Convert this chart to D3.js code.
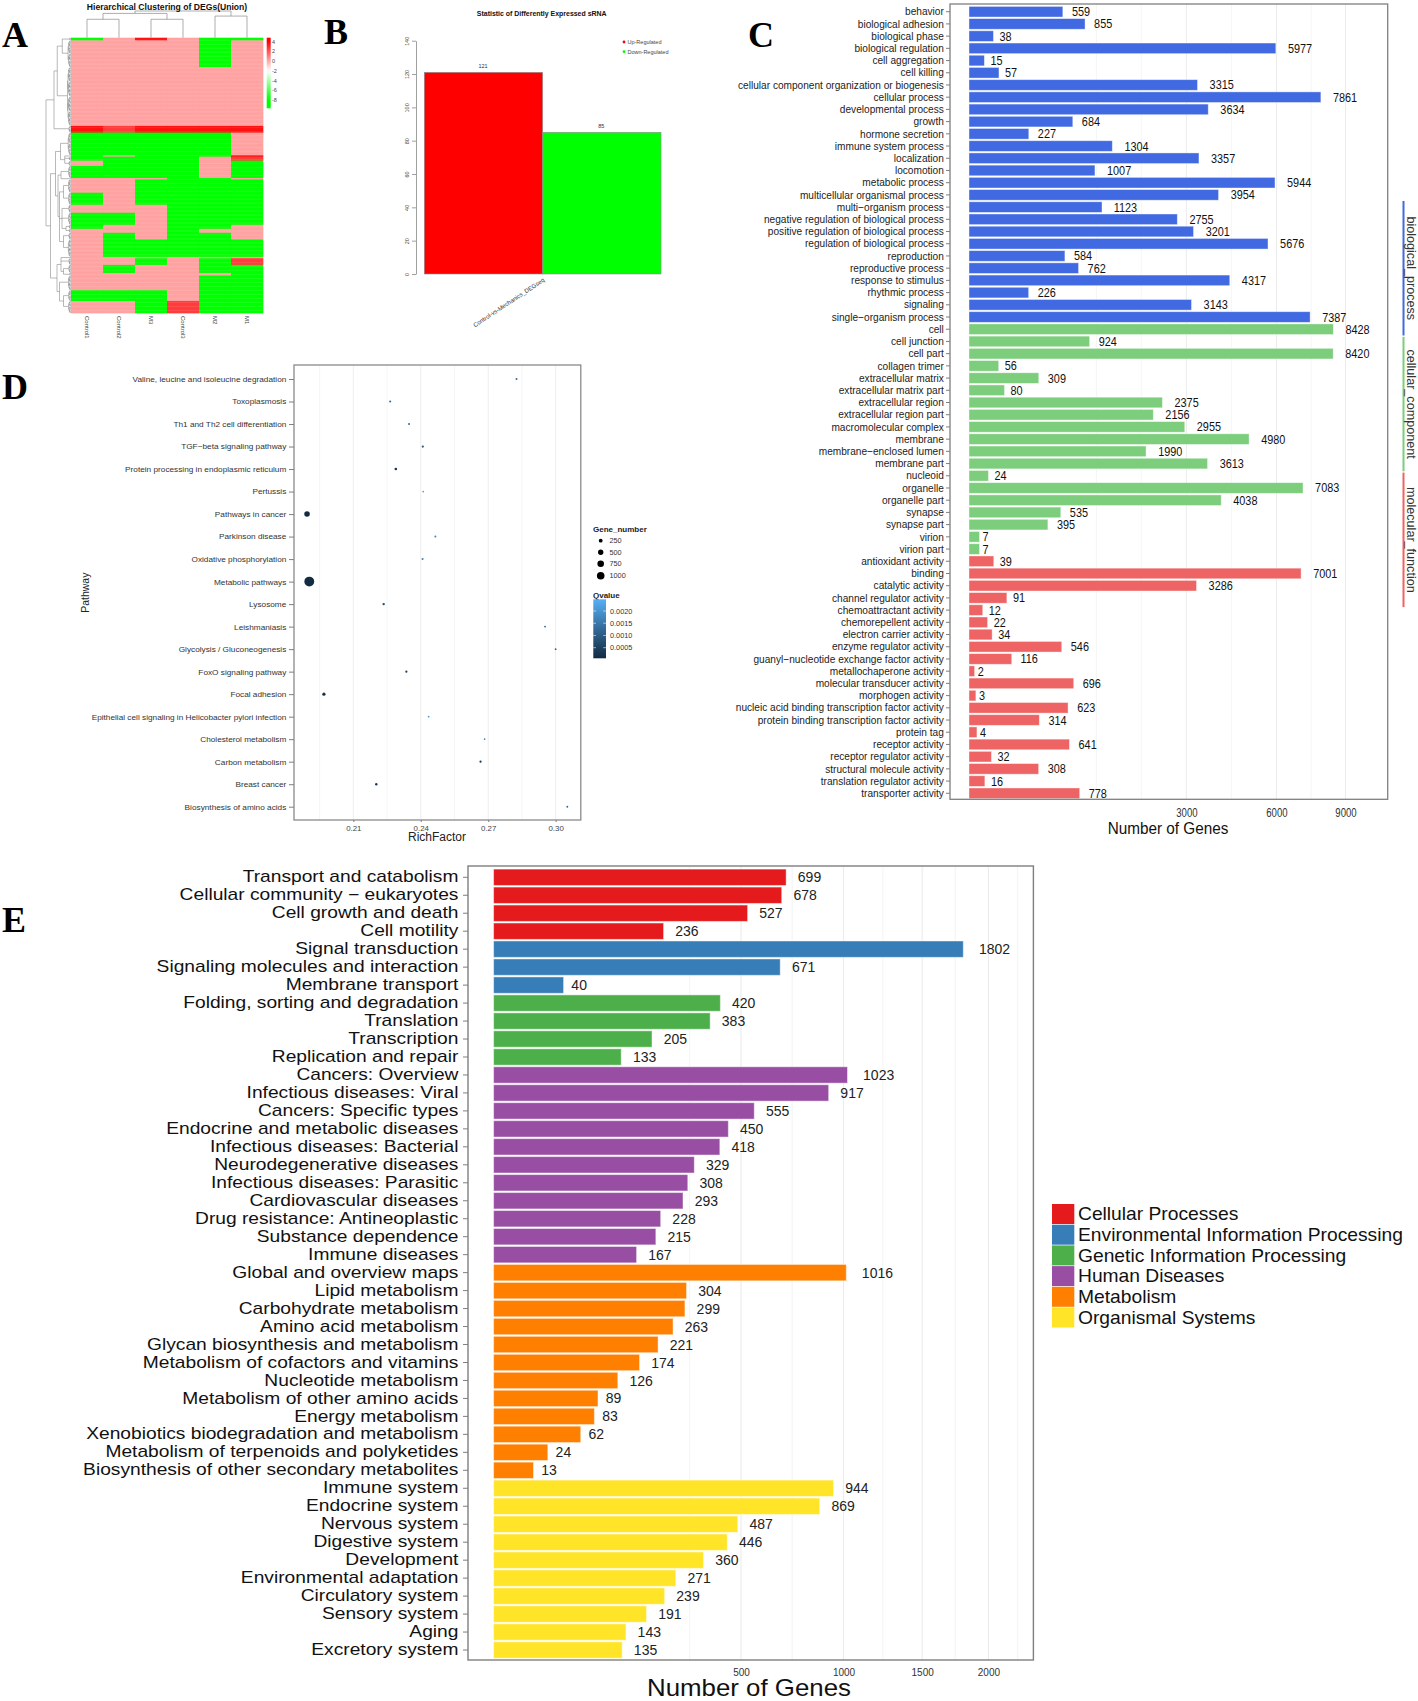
<!DOCTYPE html>
<html><head><meta charset="utf-8">
<script src="https://cdn.jsdelivr.net/npm/d3@7/dist/d3.min.js"></script>
<style>html,body{margin:0;padding:0;background:#fff;} svg{display:block;}</style>
</head><body>
<svg id="fig" width="1418" height="1701" xmlns="http://www.w3.org/2000/svg"></svg>
<script>
// ======================= DATA =======================
// ---- Panel A: hierarchical clustering heatmap ----
const heatSamples = ["Control1","Control2","M3","Control3","M2","M1"];
const heatLevelValues = {p: 0.2, R: 2.6, r: 3.6, g: -8};
// [number of rows, level per sample]
const heatBlocks = [
  [2,"gprpgg"],[20,"ppppgp"],[44,"pppppp"],[5,"rRrrrr"],[17,"gggggp"],
  [1,"gpgggr"],[3,"ggggpR"],[4,"pgggpg"],[9,"ggggpg"],[1,"pppggp"],
  [10,"ppgggg"],[9,"gpgggg"],[6,"pppggg"],[9,"ggpggg"],[3,"gppggp"],
  [3,"pppgpp"],[5,"pgpggp"],[13,"pggggg"],[1,"pppppp"],[5,"ppgpgR"],
  [6,"pgppgg"],[2,"pppppg"],[11,"ppppgg"],[8,"gggpgg"],[9,"ppgRgg"]
];
// row dendrogram over blocks: [height, children...]
const rowTree = [1.0,
  [0.68, [0.55, [0.35, 0, 1], 2], 3],
  [0.82,
    [0.62, [0.42, 4, [0.25, 5, 6, 7]],
           [0.52, [0.4, 8, 9], [0.46, [0.3, 10, 11], [0.36, 12, 13, [0.2, 14, 15]], [0.3, 16, 17]]]],
    [0.56, [0.4, 18, 19, [0.3, 20, 21]], [0.46, 22, [0.3, 23, 24]]]
  ]
];
const colTree = [1.0, [0.91, [0.69, 0, 1], [0.69, 2, 3]], [0.81, 4, 5]];
const heatLegendTicks = [4, 2, 0, -2, -4, -6, -8];

// ---- Panel B: statistic of differently expressed sRNA ----
const bSeries = ["Up-Regulated", "Down-Regulated"];
const bValues = [121, 85];
const bColors = ["#ff0000", "#00ff00"];
const bTicks = [0, 20, 40, 60, 80, 100, 120, 140];
const bGroup = "Control-vs-Mechanics_DEGseq";

// ---- Panel C: GO classification ----
const cOntologies = ["biological_process", "cellular_component", "molecular_function"];
const cOntColors = ["#4169E1", "#7CCD7C", "#EE6363"];
const cBP = ["behavior","biological adhesion","biological phase","biological regulation","cell aggregation","cell killing",
  "cellular component organization or biogenesis","cellular process","developmental process","growth","hormone secretion",
  "immune system process","localization","locomotion","metabolic process","multicellular organismal process",
  "multi\u2212organism process","negative regulation of biological process","positive regulation of biological process",
  "regulation of biological process","reproduction","reproductive process","response to stimulus","rhythmic process",
  "signaling","single\u2212organism process"];
const cBPValues = [559,855,38,5977,15,57,3315,7861,3634,684,227,1304,3357,1007,5944,3954,1123,2755,3201,5676,584,762,4317,226,3143,7387];
const cCC = ["cell","cell junction","cell part","collagen trimer","extracellular matrix","extracellular matrix part",
  "extracellular region","extracellular region part","macromolecular complex","membrane","membrane\u2212enclosed lumen",
  "membrane part","nucleoid","organelle","organelle part","synapse","synapse part","virion","virion part"];
const cCCValues = [8428,924,8420,56,309,80,2375,2156,2955,4980,1990,3613,24,7083,4038,535,395,7,7];
const cMF = ["antioxidant activity","binding","catalytic activity","channel regulator activity","chemoattractant activity",
  "chemorepellent activity","electron carrier activity","enzyme regulator activity","guanyl\u2212nucleotide exchange factor activity",
  "metallochaperone activity","molecular transducer activity","morphogen activity","nucleic acid binding transcription factor activity",
  "protein binding transcription factor activity","protein tag","receptor activity","receptor regulator activity",
  "structural molecule activity","translation regulator activity","transporter activity"];
const cMFValues = [39,7001,3286,91,12,22,34,546,116,2,696,3,623,314,4,641,32,308,16,778];
const cTicks = [3000, 6000, 9000];
const cMinorTicks = [1030, 1884, 4369, 7430];

// ---- Panel D: KEGG enrichment scatter ----
const dPathways = ["Valine, leucine and isoleucine degradation","Toxoplasmosis","Th1 and Th2 cell differentiation",
  "TGF\u2212beta signaling pathway","Protein processing in endoplasmic reticulum","Pertussis","Pathways in cancer",
  "Parkinson disease","Oxidative phosphorylation","Metabolic pathways","Lysosome","Leishmaniasis",
  "Glycolysis / Gluconeogenesis","FoxO signaling pathway","Focal adhesion",
  "Epithelial cell signaling in Helicobacter pylori infection","Cholesterol metabolism","Carbon metabolism",
  "Breast cancer","Biosynthesis of amino acids"];
const dRichFactor = [0.2826,0.2264,0.2348,0.2409,0.2289,0.2411,0.1894,0.2465,0.2408,0.1904,0.2235,0.2953,0.3000,0.2336,0.1969,0.2435,0.2684,0.2666,0.2202,0.3052];
const dGeneNumber = [70,80,70,85,120,55,530,70,70,1700,100,55,55,85,180,55,45,85,100,60];
const dQvalue = [0.0012,0.0013,0.0012,0.0008,0.0003,0.0022,0.00002,0.0017,0.0016,0.00001,0.0007,0.0010,0.0011,0.0005,0.0002,0.0021,0.0015,0.0004,0.0003,0.0012];
const dTicks = [0.21, 0.24, 0.27, 0.30];
const dMinorTicks = [0.195, 0.225, 0.255, 0.285];
const dSizeLegend = [250, 500, 750, 1000];
const dQLegend = [0.0020, 0.0015, 0.0010, 0.0005];

// ---- Panel E: KEGG classification ----
const eClasses = ["Cellular Processes","Environmental Information Processing","Genetic Information Processing",
  "Human Diseases","Metabolism","Organismal Systems"];
const eClassColors = ["#E41A1C","#377EB8","#4DAF4A","#984EA3","#FF7F00","#FFE428"];
const eTerms = [
  ["Transport and catabolism","Cellular community \u2212 eukaryotes","Cell growth and death","Cell motility"],
  ["Signal transduction","Signaling molecules and interaction","Membrane transport"],
  ["Folding, sorting and degradation","Translation","Transcription","Replication and repair"],
  ["Cancers: Overview","Infectious diseases: Viral","Cancers: Specific types","Endocrine and metabolic diseases",
   "Infectious diseases: Bacterial","Neurodegenerative diseases","Infectious diseases: Parasitic","Cardiovascular diseases",
   "Drug resistance: Antineoplastic","Substance dependence","Immune diseases"],
  ["Global and overview maps","Lipid metabolism","Carbohydrate metabolism","Amino acid metabolism",
   "Glycan biosynthesis and metabolism","Metabolism of cofactors and vitamins","Nucleotide metabolism",
   "Metabolism of other amino acids","Energy metabolism","Xenobiotics biodegradation and metabolism",
   "Metabolism of terpenoids and polyketides","Biosynthesis of other secondary metabolites"],
  ["Immune system","Endocrine system","Nervous system","Digestive system","Development","Environmental adaptation",
   "Circulatory system","Sensory system","Aging","Excretory system"]
];
const eCounts = [
  [699,678,527,236],
  [1802,671,40],
  [420,383,205,133],
  [1023,917,555,450,418,329,308,293,228,215,167],
  [1016,304,299,263,221,174,126,89,83,62,24,13],
  [944,869,487,446,360,271,239,191,143,135]
];
const eTicks = [500, 1000, 1500, 2000];
const eMinorTicks = [314, 728, 1238, 1741, 2243];

// ======================= DRAW =======================
const svg = d3.select("#fig");
const SANS = "'Liberation Sans', Arial, Helvetica, sans-serif";
const SERIF = "'Liberation Serif', 'Times New Roman', Times, serif";
const GRID = "#7f7f7f";

function label(g, x, y, s, o = {}) {
  let tr = `translate(${x},${y})`;
  if (o.rot) tr += ` rotate(${o.rot})`;
  if (o.sx) tr += ` scale(${o.sx},1)`;
  const t = g.append("text").attr("transform", tr)
    .attr("text-anchor", o.anchor || "start")
    .attr("font-family", o.family || SANS)
    .attr("font-size", o.size || 10)
    .attr("fill", o.fill || "#222")
    .text(s);
  if (o.weight) t.attr("font-weight", o.weight);
  if (o.dy) t.attr("dy", o.dy);
  return t;
}
function axisText(gAxis, size, sx, fill) {
  gAxis.attr("font-family", SANS);
  gAxis.selectAll("text").attr("font-family", SANS).attr("font-size", size).attr("fill", fill)
    .attr("transform", `scale(${sx},1)`);
  gAxis.selectAll("line").attr("stroke", GRID);
  gAxis.select(".domain").remove();
}
// value label placed half its own width beyond the bar end (ggplot hjust = -0.5)
function valueLabel(g, x, y, s, size, sx, fill) {
  const t = label(g, x, y, s, {size, sx, dy: "0.36em", fill});
  const w = t.node().getComputedTextLength() * sx;
  t.attr("transform", `translate(${x + 0.5 * w},${y}) scale(${sx},1)`);
  return t;
}

// ---------- panel letters ----------
[["A", 2, 46.5], ["B", 324, 43.5], ["C", 748, 46.5], ["D", 2, 398.5], ["E", 2, 931.5]].forEach(([s, x, y]) =>
  label(svg, x, y, s, {size: 36, weight: "bold", family: SERIF, fill: "#000"}));

// ---------- Panel A ----------
(function () {
  const g = svg.append("g");
  const heatRows = [];
  const blockStart = [];
  heatBlocks.forEach(([n, pat]) => {
    blockStart.push(heatRows.length);
    for (let k = 0; k < n; k++) heatRows.push(pat.split("").map(c => heatLevelValues[c]));
  });
  const hx = d3.scaleBand().domain(heatSamples).range([71, 263]);
  const hy = d3.scaleBand().domain(d3.range(heatRows.length)).range([37.7, 313]);
  const heatColor = d3.scaleLinear().domain([-8, -2, 4]).range(["#00ff00", "#ffffff", "#ff0000"]).clamp(true);
  const cells = [];
  heatRows.forEach((vals, i) => vals.forEach((v, j) => cells.push({i, s: heatSamples[j], v})));
  g.append("g").selectAll("rect").data(cells).join("rect")
    .attr("x", d => hx(d.s)).attr("y", d => hy(d.i))
    .attr("width", hx.bandwidth() + 0.3).attr("height", hy.bandwidth() + 0.4)
    .attr("fill", d => heatColor(d.v));

  // row dendrogram
  const rowH = d3.scaleLinear().domain([0, 1]).range([71, 46]);
  const rp = d3.path();
  function joinRow(h, kids) {
    const ps = kids.map(k => k.p), p0 = d3.min(ps), p1 = d3.max(ps);
    rp.moveTo(rowH(h), p0); rp.lineTo(rowH(h), p1);
    kids.forEach(k => { rp.moveTo(rowH(h), k.p); rp.lineTo(rowH(k.h), k.p); });
    return {h, p: (p0 + p1) / 2};
  }
  function rowSpan(a, b) {
    if (b - a === 1) return {h: 0, p: hy(a) + hy.bandwidth() / 2};
    const m = Math.floor((a + b) / 2);
    return joinRow(0.03 + 0.12 * Math.log2(b - a) / 6, [rowSpan(a, m), rowSpan(m, b)]);
  }
  function rowNode(node) {
    if (typeof node === "number") return rowSpan(blockStart[node], blockStart[node] + heatBlocks[node][0]);
    return joinRow(node[0], node.slice(1).map(rowNode));
  }
  rowNode(rowTree);
  g.append("path").attr("d", rp.toString()).attr("fill", "none").attr("stroke", "#8a8a8a").attr("stroke-width", 0.6);

  // column dendrogram
  const colH = d3.scaleLinear().domain([0, 1]).range([37.7, 11]);
  const cp = d3.path();
  function colNode(node) {
    if (typeof node === "number") return {h: 0, p: hx(heatSamples[node]) + hx.bandwidth() / 2};
    const h = node[0], kids = node.slice(1).map(colNode);
    const ps = kids.map(k => k.p), p0 = d3.min(ps), p1 = d3.max(ps);
    cp.moveTo(p0, colH(h)); cp.lineTo(p1, colH(h));
    kids.forEach(k => { cp.moveTo(k.p, colH(h)); cp.lineTo(k.p, colH(k.h)); });
    return {h, p: (p0 + p1) / 2};
  }
  colNode(colTree);
  g.append("path").attr("d", cp.toString()).attr("fill", "none").attr("stroke", "#8a8a8a").attr("stroke-width", 0.7);

  // sample labels
  heatSamples.forEach(s => label(g, hx(s) + hx.bandwidth() / 2 - 2, 316, s, {size: 6, rot: 90, fill: "#444"}));

  // title
  label(g, 167, 9.5, "Hierarchical Clustering of DEGs(Union)", {size: 8.6, weight: "bold", anchor: "middle", fill: "#111"});

  // colour key
  const legY = d3.scaleLinear().domain([4, -8]).range([41.7, 100]);
  const grad = svg.append("defs").append("linearGradient").attr("id", "heatGrad")
    .attr("x1", 0).attr("y1", 0).attr("x2", 0).attr("y2", 1);
  const top = 37.7, bot = 108.3;
  d3.range(0, 1.0001, 0.05).forEach(t => {
    grad.append("stop").attr("offset", t).attr("stop-color", heatColor(legY.invert(top + t * (bot - top))));
  });
  g.append("rect").attr("x", 266.7).attr("y", top).attr("width", 4).attr("height", bot - top).attr("fill", "url(#heatGrad)");
  heatLegendTicks.forEach(v => label(g, 272, legY(v), String(v), {size: 5.5, dy: "0.35em", fill: "#444"}));
})();

// ---------- Panel B ----------
(function () {
  const g = svg.append("g");
  const bY = d3.scaleLinear().domain([0, 140]).range([274, 40.7]);
  const bX = d3.scaleBand().domain(bSeries).range([424.3, 661]);
  g.selectAll("rect.bar").data(bSeries).join("rect").attr("class", "bar")
    .attr("x", s => bX(s)).attr("y", (s, i) => bY(bValues[i]))
    .attr("width", bX.bandwidth()).attr("height", (s, i) => bY(0) - bY(bValues[i]))
    .attr("fill", (s, i) => bColors[i]).attr("stroke", "#8c8c8c").attr("stroke-width", 0.6);
  bSeries.forEach((s, i) => label(g, bX(s) + bX.bandwidth() / 2 - 0.5, bY(bValues[i]) - 4.3, bValues[i], {size: 5.5, anchor: "middle", fill: "#333"}));
  const ax = g.append("g").attr("transform", "translate(416,0)")
    .call(d3.axisLeft(bY).tickValues(bTicks).tickSize(4).tickSizeOuter(0));
  ax.select(".domain").attr("stroke", "#777").attr("stroke-width", 0.7);
  ax.selectAll("line").attr("stroke", "#777").attr("stroke-width", 0.7);
  ax.selectAll("text").attr("x", 0).attr("dy", 0).attr("text-anchor", "middle")
    .attr("font-size", 5.5).attr("font-family", SANS).attr("fill", "#444")
    .attr("transform", "translate(-7.5,0) rotate(-90)");
  label(g, 545, 281, bGroup, {size: 6, rot: -33.5, anchor: "end", fill: "#333"});
  label(g, 541.7, 15.5, "Statistic of Differently Expressed sRNA", {size: 8, sx: 0.87, weight: "bold", anchor: "middle", fill: "#111"});
  bSeries.forEach((s, i) => {
    const y = 42 + i * 9.7;
    g.append("circle").attr("cx", 624).attr("cy", y).attr("r", 1.4).attr("fill", bColors[i]);
    label(g, 627.5, y, s, {size: 5.5, dy: "0.35em", fill: "#444"});
  });
})();

// ---------- Panel C ----------
(function () {
  const g = svg.append("g");
  const terms = [...cBP, ...cCC, ...cMF];
  const vals = [...cBPValues, ...cCCValues, ...cMFValues];
  const ont = [...cBP.map(() => 0), ...cCC.map(() => 1), ...cMF.map(() => 2)];
  const L = 950, R = 1387.7, T = 4, B = 799.3;
  const cY = d3.scaleBand().domain(terms).range([5.6, 799.4]).paddingInner(0.13).paddingOuter(0.065);
  const cX = d3.scaleSqrt().domain([0, 11130]).range([969, R]);
  // grid
  cMinorTicks.forEach(v => g.append("line").attr("x1", cX(v)).attr("x2", cX(v)).attr("y1", T).attr("y2", B).attr("stroke", "#f2f2f2").attr("stroke-width", 0.8));
  cTicks.forEach(v => g.append("line").attr("x1", cX(v)).attr("x2", cX(v)).attr("y1", T).attr("y2", B).attr("stroke", "#ebebeb").attr("stroke-width", 1));
  // bars
  g.selectAll("rect.bar").data(terms).join("rect").attr("class", "bar")
    .attr("x", cX(0)).attr("y", d => cY(d))
    .attr("width", (d, i) => cX(vals[i]) - cX(0)).attr("height", cY.bandwidth())
    .attr("fill", (d, i) => cOntColors[ont[i]])
    .attr("stroke", "rgba(255,255,255,0.5)").attr("stroke-width", 0.8);
  terms.forEach((d, i) => valueLabel(g, cX(vals[i]), cY(d) + cY.bandwidth() / 2, vals[i], 12.5, 0.87, "#111"));
  // frame
  g.append("rect").attr("x", L).attr("y", T).attr("width", R - L).attr("height", B - T)
    .attr("fill", "none").attr("stroke", GRID).attr("stroke-width", 1.3);
  // axes
  const ay = g.append("g").attr("transform", `translate(${L},0)`).call(d3.axisLeft(cY).tickSize(4).tickPadding(3));
  axisText(ay, 11.5, 0.88, "#222");
  const axx = g.append("g").attr("transform", `translate(0,${B})`)
    .call(d3.axisBottom(cX).tickValues(cTicks).tickFormat(d3.format("d")).tickSize(0).tickPadding(9.5));
  axisText(axx, 12, 0.8, "#333");
  label(g, 1168, 834.3, "Number of Genes", {size: 17, sx: 0.9, anchor: "middle", fill: "#111"});
  // ontology strip
  cOntologies.forEach((o, i) => {
    const y0 = 201 + i * 135.8, y1 = y0 + 134.5;
    g.append("line").attr("x1", 1403.5).attr("x2", 1403.5).attr("y1", y0).attr("y2", y1)
      .attr("stroke", cOntColors[i]).attr("stroke-width", 2);
    label(g, 1406.5, (y0 + y1) / 2, o, {size: 12.6, rot: 90, anchor: "middle", fill: "#333"});
  });
})();

// ---------- Panel D ----------
(function () {
  const g = svg.append("g");
  const L = 294, R = 580.8, T = 365, B = 820;
  const dY = d3.scalePoint().domain(dPathways).range([379, 806.7]);
  const dX = d3.scaleLinear().domain([0.1836, 0.3112]).range([L, R]);
  const dR = d3.scaleSqrt().domain([0, 1000]).range([0, 3.8]);
  const dC = d3.scaleLinear().domain([0.00007, 0.00248]).range(["#132B43", "#56B1F7"]).interpolate(d3.interpolateLab).clamp(true);
  dMinorTicks.forEach(v => g.append("line").attr("x1", dX(v)).attr("x2", dX(v)).attr("y1", T).attr("y2", B).attr("stroke", "#f3f3f3").attr("stroke-width", 0.8));
  dTicks.forEach(v => g.append("line").attr("x1", dX(v)).attr("x2", dX(v)).attr("y1", T).attr("y2", B).attr("stroke", "#ececec").attr("stroke-width", 0.9));
  g.selectAll("circle.pt").data(dPathways).join("circle").attr("class", "pt")
    .attr("cx", (d, i) => dX(dRichFactor[i])).attr("cy", d => dY(d))
    .attr("r", (d, i) => dR(dGeneNumber[i])).attr("fill", (d, i) => dC(dQvalue[i]));
  g.append("rect").attr("x", L).attr("y", T).attr("width", R - L).attr("height", B - T)
    .attr("fill", "none").attr("stroke", "#8a8a8a").attr("stroke-width", 1.3);
  const ay = g.append("g").attr("transform", `translate(${L},0)`).call(d3.axisLeft(dY).tickSize(5).tickPadding(2));
  axisText(ay, 7.5, 1.1, "#333");
  const ax = g.append("g").attr("transform", `translate(0,${B})`).call(d3.axisBottom(dX).tickValues(dTicks).tickFormat(d3.format(".2f")).tickSize(2).tickPadding(3.5));
  axisText(ax, 7.5, 1.05, "#444");
  label(g, 437, 841, "RichFactor", {size: 12, anchor: "middle", fill: "#222"});
  label(g, 88.5, 592.7, "Pathway", {size: 10.5, rot: -90, anchor: "middle", fill: "#222"});
  // size legend
  label(g, 593, 532, "Gene_number", {size: 8, weight: "bold", fill: "#222"});
  dSizeLegend.forEach((v, i) => {
    const y = [540.7, 552.3, 563.8, 575.7][i];
    g.append("circle").attr("cx", 600.7).attr("cy", y).attr("r", dR(v)).attr("fill", "#000");
    label(g, 609.5, y, v, {size: 7.3, dy: "0.35em", fill: "#333"});
  });
  // colour legend
  label(g, 593, 597.5, "Qvalue", {size: 8, weight: "bold", fill: "#222"});
  const qY = d3.scaleLinear().domain([0.0020, 0.0005]).range([611, 647.7]);
  const qTop = 599.3, qBot = 658.3;
  const qg = svg.select("defs").append("linearGradient").attr("id", "qGrad").attr("x1", 0).attr("y1", 0).attr("x2", 0).attr("y2", 1);
  d3.range(0, 1.0001, 0.1).forEach(t => qg.append("stop").attr("offset", t).attr("stop-color", dC(qY.invert(qTop + t * (qBot - qTop)))));
  g.append("rect").attr("x", 593.3).attr("y", qTop).attr("width", 12.7).attr("height", qBot - qTop).attr("fill", "url(#qGrad)");
  dQLegend.forEach(v => {
    g.append("line").attr("x1", 593.3).attr("x2", 596).attr("y1", qY(v)).attr("y2", qY(v)).attr("stroke", "#fff").attr("stroke-width", 0.6);
    g.append("line").attr("x1", 603.3).attr("x2", 606).attr("y1", qY(v)).attr("y2", qY(v)).attr("stroke", "#fff").attr("stroke-width", 0.6);
    label(g, 610, qY(v), d3.format(".4f")(v), {size: 7.3, dy: "0.35em", fill: "#333"});
  });
})();

// ---------- Panel E ----------
(function () {
  const g = svg.append("g");
  const terms = eTerms.flat();
  const vals = eCounts.flat();
  const cls = eTerms.flatMap((arr, k) => arr.map(() => eClasses[k]));
  const L = 468, R = 1033.4, T = 866, B = 1660;
  const eY = d3.scaleBand().domain(terms).range([868.3, 1659]).paddingInner(0.09).paddingOuter(0.045);
  const eX = d3.scaleSqrt().domain([0, 2380]).range([493.6, R]);
  const eColor = d3.scaleOrdinal().domain(eClasses).range(eClassColors);
  eMinorTicks.forEach(v => g.append("line").attr("x1", eX(v)).attr("x2", eX(v)).attr("y1", T).attr("y2", B).attr("stroke", "#f2f2f2").attr("stroke-width", 0.9));
  eTicks.forEach(v => g.append("line").attr("x1", eX(v)).attr("x2", eX(v)).attr("y1", T).attr("y2", B).attr("stroke", "#ebebeb").attr("stroke-width", 1.1));
  g.selectAll("rect.bar").data(terms).join("rect").attr("class", "bar")
    .attr("x", eX(0)).attr("y", d => eY(d))
    .attr("width", (d, i) => eX(vals[i]) - eX(0)).attr("height", eY.bandwidth())
    .attr("fill", (d, i) => eColor(cls[i]))
    .attr("stroke", "rgba(255,255,255,0.45)").attr("stroke-width", 1);
  terms.forEach((d, i) => valueLabel(g, eX(vals[i]), eY(d) + eY.bandwidth() / 2, vals[i], 14, 1.0, "#222"));
  g.append("rect").attr("x", L).attr("y", T).attr("width", R - L).attr("height", B - T)
    .attr("fill", "none").attr("stroke", GRID).attr("stroke-width", 1.4);
  const ay = g.append("g").attr("transform", `translate(${L},0)`).call(d3.axisLeft(eY).tickSize(5).tickPadding(3));
  axisText(ay, 16, 1.2, "#111");
  const ax = g.append("g").attr("transform", `translate(0,${B})`)
    .call(d3.axisBottom(eX).tickValues(eTicks).tickFormat(d3.format("d")).tickSize(0).tickPadding(9.2));
  axisText(ax, 10, 1.0, "#333");
  label(g, 749, 1696, "Number of Genes", {size: 23.5, sx: 1.1, anchor: "middle", fill: "#111"});
  // legend
  eClasses.forEach((c, i) => {
    const y = 1204 + i * 20.7;
    g.append("rect").attr("x", 1052).attr("y", y).attr("width", 22.3).attr("height", 20).attr("fill", eColor(c));
    label(g, 1078, y + 10, c, {size: 17.5, sx: 1.1, dy: "0.36em", fill: "#111"});
  });
})();
</script>
</body></html>
